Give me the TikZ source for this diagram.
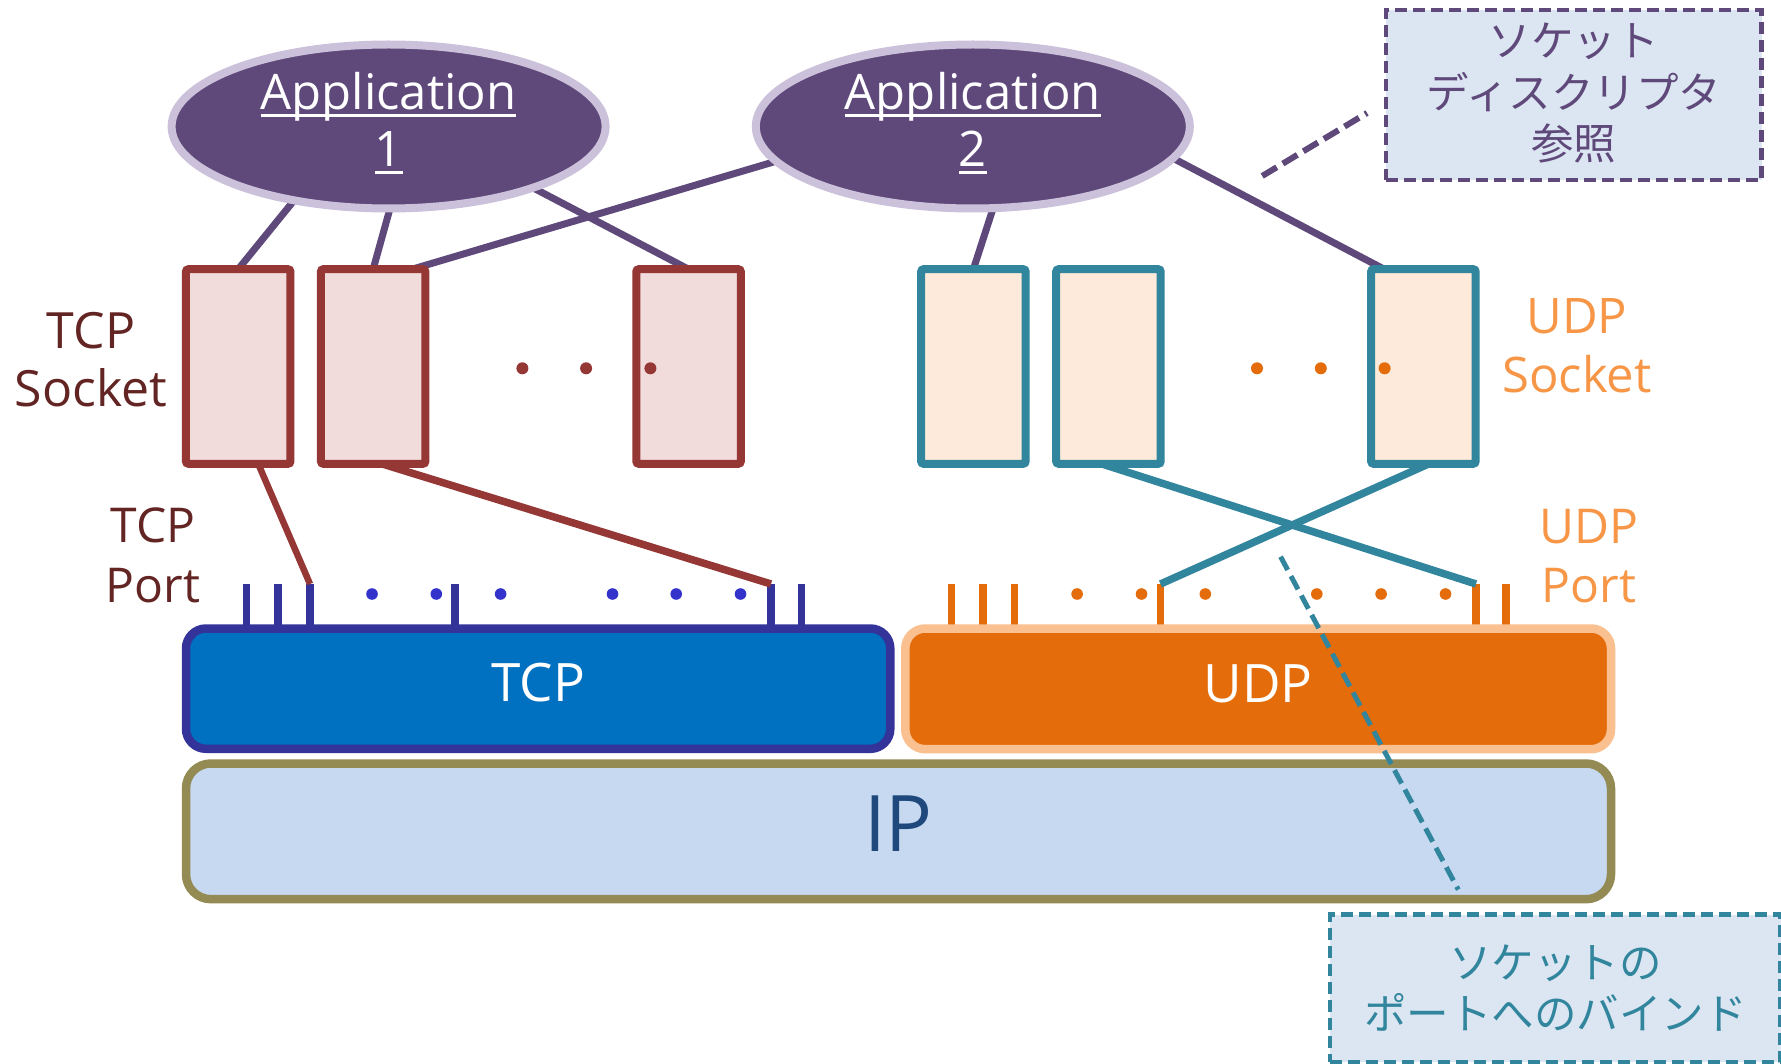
\documentclass[tikz,border=0pt]{standalone}
\usepackage{fontspec}
\setmainfont{Open Sans}
\newfontfamily\jpfont{Noto Sans CJK JP}
\usetikzlibrary{shapes.geometric,calc}
\pgfdeclarelayer{background}
\pgfsetlayers{background,main}

\definecolor{apppurple}{HTML}{5F497A}
\definecolor{applav}{HTML}{CCC1DA}
\definecolor{tcpred}{HTML}{953735}
\definecolor{tcpfill}{HTML}{F2DCDB}
\definecolor{udpteal}{HTML}{31859C}
\definecolor{udpfill}{HTML}{FDEADA}
\definecolor{tcplabel}{HTML}{632523}
\definecolor{udplabel}{HTML}{F79646}
\definecolor{tcpblue}{HTML}{0070C0}
\definecolor{tcpedge}{HTML}{333399}
\definecolor{tcpdot}{HTML}{3333CC}
\definecolor{udporange}{HTML}{E46C0A}
\definecolor{udpedge}{HTML}{FAC090}
\definecolor{ipfill}{HTML}{C6D9F1}
\definecolor{ipedge}{HTML}{948A54}
\definecolor{iptext}{HTML}{1F497D}
\definecolor{notefill}{HTML}{DCE6F2}

% underline running through the descenders
\newcommand\appul[1]{\setbox0=\hbox{#1}\rlap{\rule[-7pt]{\wd0}{2.6pt}}\box0}
\newcommand\twoline[2]{\begin{tabular}[t]{@{}c@{}}#1\\#2\end{tabular}}
\newcommand\threeline[3]{\begin{tabular}[t]{@{}c@{}}#1\\#2\\#3\end{tabular}}

\begin{document}
\begin{tikzpicture}[x=1pt,y=-1pt,
  app/.style={ellipse, draw=applav, fill=apppurple, line width=8pt,
    minimum width=434pt, minimum height=164pt, inner sep=0pt, outer sep=0pt},
  apptext/.style={anchor=base, inner sep=0pt, text=white,
    font=\fontsize{49}{56.7}\selectfont},
  sockbox/.style={line width=8pt, minimum width=104.5pt, minimum height=194.6pt,
    inner sep=0pt, outer sep=0pt, rounded corners=2.5pt},
  tcpsock/.style={sockbox, draw=tcpred, fill=tcpfill},
  udpsock/.style={sockbox, draw=udpteal, fill=udpfill},
  layerbox/.style={line width=8.5pt, rounded corners=20pt, inner sep=0pt, outer sep=0pt,
    text=white, font=\fontsize{53}{60}\selectfont, text height=26.6pt, text depth=0pt},
  sidelabel/.style={anchor=base, inner sep=0pt},
  notebox/.style={line width=4.8pt, fill=notefill, inner sep=0pt, outer sep=0pt,
    dash pattern=on 12pt off 6pt},
  notetext/.style={anchor=base, inner sep=0pt, font=\jpfont\fontsize{42.5}{50.5}\selectfont},
  appline/.style={draw=apppurple, line width=7pt},
  tcpbind/.style={draw=tcpred, line width=7.5pt},
  udpbind/.style={draw=udpteal, line width=7.5pt},
  tcptick/.style={draw=tcpedge, line width=7.5pt},
  udptick/.style={draw=udporange, line width=7.5pt}
]
\begin{pgfonlayer}{background}
  \fill[white] (0,0) rectangle (1781,1064);
\end{pgfonlayer}
\useasboundingbox (0,0) rectangle (1781,1064);

% applications
\node[app] (app1) at (388.6,126.5) {};
\node[app] (app2) at (972.8,126.5) {};
\node[apptext] (app1t) at (388.6,110) {\twoline{\appul{Application}}{\appul{1}}};
\node[apptext] (app2t) at (972.8,110) {\twoline{\appul{Application}}{\appul{2}}};

% sockets
\node[tcpsock] (s1) at (238.2,366.5) {};
\node[tcpsock] (s2) at (373.15,366.5) {};
\node[tcpsock] (s3) at (688.55,366.5) {};
\node[udpsock] (u1) at (973.4,366.5) {};
\node[udpsock] (u2) at (1108.45,366.5) {};
\node[udpsock] (u3) at (1423.4,366.5) {};

\foreach \x in {522.4,586.1,650.4} \fill[tcpred] (\x,368.3) circle (6pt);
\foreach \x in {1257,1320.8,1384.6} \fill[udporange] (\x,368.3) circle (6pt);

% protocol layers
\node[layerbox, draw=tcpedge, fill=tcpblue, minimum width=704.3pt, minimum height=120.3pt]
  (tcp) at (538.15,688.65) {TCP};
\node[layerbox, draw=udpedge, fill=udporange, minimum width=705.7pt, minimum height=120.7pt]
  (udp) at (1258.15,688.85) {UDP};
\node[layerbox, draw=ipedge, fill=ipfill, rounded corners=25pt, text=iptext,
  font=\fontsize{78}{80}\selectfont, text height=39.4pt,
  minimum width=1425pt, minimum height=135.7pt] (ip) at (898.5,831.35) {IP};

% side labels
\node[sidelabel, text=tcplabel, font=\fontsize{50}{58}\selectfont] (tcpsocklbl) at (91,349) {\twoline{TCP}{Socket}};
\node[sidelabel, text=tcplabel, font=\fontsize{48}{60}\selectfont] (tcpportlbl) at (153,542.7) {\twoline{TCP}{Port}};
\node[sidelabel, text=udplabel, font=\fontsize{49}{59}\selectfont] (udpsocklbl) at (1577,334) {\twoline{UDP}{Socket}};
\node[sidelabel, text=udplabel, font=\fontsize{48}{59.4}\selectfont] (udpportlbl) at (1589,543.3) {\twoline{UDP}{Port}};

% ports
\foreach \n/\x in {1/246.3,2/277.8,3/310,4/455.2,5/771,6/801.4}
  \coordinate (tt\n) at (\x,584);
\foreach \n/\x in {1/951.3,2/982.9,3/1014.5,4/1160.5,5/1476,6/1505.9}
  \coordinate (ut\n) at (\x,584);
\begin{pgfonlayer}{background}
  \foreach \n in {1,...,6} {
    \draw[tcptick] (tt\n) -- (tt\n |- tcp.north);
    \draw[udptick] (ut\n) -- (ut\n |- udp.north);
  }
  % application to socket references
  \draw[appline] (app1.218) -- (s1.north);
  \draw[appline] (app1.271) -- (s2.north);
  \draw[appline] (app1.337) -- (s3.north);
  \draw[appline] (app2.190) -- ([xshift=-13.2pt]s2.north east);
  \draw[appline] (app2.284) -- (u1.north);
  \draw[appline] (app2.351) -- ([xshift=13pt]u3.north west);
\end{pgfonlayer}
\foreach \x in {372,436.3,500.6,612.5,676.2,740.5} \fill[tcpdot] (\x,594) circle (5.8pt);
\foreach \x in {1077.1,1141.5,1205.3,1316.8,1381.1,1445.5} \fill[udporange] (\x,594) circle (5.8pt);

% socket to port bindings
\draw[tcpbind, line width=6.5pt] ([xshift=20pt]s1.south) -- (tt3);
\draw[tcpbind] ([xshift=8.6pt]s2.south) -- (tt5);
\draw[udpbind] ([xshift=-7pt]u2.south) -- (ut5);
\draw[udpbind] ([xshift=5.5pt]u3.south) -- (ut4);

% callouts
\node[notebox, draw=apppurple, minimum width=375.7pt, minimum height=170pt] (note) at (1573.9,95) {};
\node[notetext, text=apppurple] (notet) at (1573.9,57) {\threeline{ソケット}{ディスクリプタ}{参照}};
\coordinate (descend) at (1262.2,176);
\draw[appline, line width=6pt, dash pattern=on 17pt off 7pt] (descend) -- ([shift={(-19,18)}]note.west);

\node[notebox, draw=udpteal, minimum width=450.5pt, minimum height=147.7pt] (bind) at (1555.25,988.45) {};
\node[notetext, text=udpteal] (bindt) at (1555.25,978.5) {\twoline{ソケットの}{ポートへのバインド}};
\coordinate (bindend) at (1280.6,556.7);
\draw[udpteal, line width=5pt, dash pattern=on 15pt off 7pt] (bindend) -- ([shift={(-97,-25)}]bind.north);
\end{tikzpicture}
\end{document}
